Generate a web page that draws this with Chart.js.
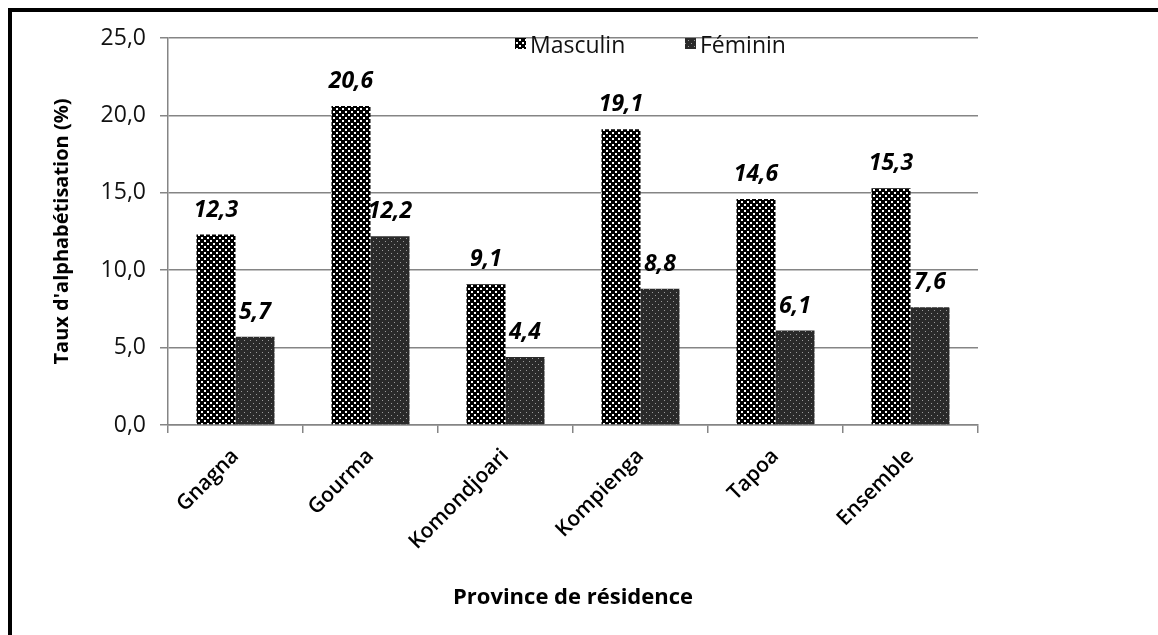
<!DOCTYPE html>
<html>
<head>
<meta charset="utf-8">
<script src="https://cdn.jsdelivr.net/npm/chart.js@4/dist/chart.umd.min.js"></script>
<style>
  body { margin: 0; background: #fff; }
  #wrap { position: relative; width: 1158px; height: 635px; overflow: hidden; }
  #frame { position: absolute; left: 8px; top: 8px; right: -10px; bottom: -10px;
           border-left: 4px solid #000; border-top: 4px solid #000; pointer-events: none; }
  canvas { position: absolute; left: 0; top: 0; }
</style>
</head>
<body>
<div id="wrap">
  <canvas id="alphaChart" width="1158" height="635"></canvas>
  <div id="frame"></div>
</div>
<script>
const provinces = ["Gnagna", "Gourma", "Komondjoari", "Kompienga", "Tapoa", "Ensemble"];
const masculin = [12.3, 20.6, 9.1, 19.1, 14.6, 15.3];
const feminin = [5.7, 12.2, 4.4, 8.8, 6.1, 7.6];
const yTicks = [0, 5, 10, 15, 20, 25];

const gray = "#858585";
const fontFam = "'Open Sans', sans-serif";

// hatch patterns like the old office chart
function checkerPattern() {
    const c = document.createElement("canvas");
    c.width = 6; c.height = 6;
    const g = c.getContext("2d");
    g.fillStyle = "#000";
    g.fillRect(0, 0, 6, 6);
    g.fillStyle = "#fff";
    g.fillRect(0, 0, 2, 2);
    g.fillRect(3, 3, 2, 2);
    return g.createPattern(c, "repeat");
}
function dotPattern() {
    const c = document.createElement("canvas");
    c.width = 6; c.height = 6;
    const g = c.getContext("2d");
    g.fillStyle = "#2a2a2a";
    g.fillRect(0, 0, 6, 6);
    g.fillStyle = "#9a9a9a";
    g.fillRect(1, 1, 1, 1);
    g.fillRect(4, 4, 1, 1);
    return g.createPattern(c, "repeat");
}

const fmt = v => v.toFixed(1).replace(".", ",");

const valueLabels = {
    id: "valueLabels",
    afterDatasetsDraw(chart) {
        const ctx = chart.ctx;
        ctx.save();
        ctx.font = "italic bold 23px " + fontFam;
        ctx.fillStyle = "#000";
        ctx.textAlign = "center";
        ctx.textBaseline = "alphabetic";
        chart.data.datasets.forEach((ds, i) => {
            chart.getDatasetMeta(i).data.forEach((bar, j) => {
                ctx.fillText(fmt(ds.data[j]), bar.x, bar.y - 18);
            });
        });
        ctx.restore();
    }
};

const legendBox = {
    id: "legendBox",
    afterDraw(chart) {
        const ctx = chart.ctx;
        const spots = [515, 685];
        ctx.save();
        ctx.font = "23px " + fontFam;
        ctx.textBaseline = "middle";
        chart.data.datasets.forEach((ds, i) => {
            const x = spots[i];
            ctx.fillStyle = ds.backgroundColor;
            ctx.fillRect(x, 38, 11, 11);
            ctx.fillStyle = "#111";
            ctx.fillText(ds.label, x + 15, 46);
        });
        ctx.restore();
    }
};

const canvas = document.getElementById("alphaChart");

let alphaChart = new Chart(canvas, {
    type: "bar",
    data: {
        labels: provinces,
        datasets: [
            {
                label: "Masculin",
                data: masculin,
                backgroundColor: checkerPattern(),
                borderWidth: 0,
                categoryPercentage: 0.578,
                barPercentage: 1.0
            },
            {
                label: "Féminin",
                data: feminin,
                backgroundColor: dotPattern(),
                borderWidth: 0,
                categoryPercentage: 0.578,
                barPercentage: 1.0
            }
        ]
    },
    options: {
        responsive: false,
        animation: false,
        devicePixelRatio: 1,
        layout: { padding: { left: 50, right: 180, top: 38, bottom: 24 } },
        plugins: {
            legend: { display: false },
            tooltip: { enabled: false }
        },
        scales: {
            x: {
                afterFit: s => { s.height = 186; },
                border: { display: true, color: gray, width: 1.5 },
                grid: {
                    offset: true,
                    drawOnChartArea: true,
                    color: ctx => ctx.index === provinces.length ? gray : "rgba(0,0,0,0)",
                    tickColor: gray,
                    tickLength: 8,
                    lineWidth: 1.5
                },
                ticks: {
                    color: "#000",
                    font: { family: fontFam, size: 21, weight: 600 },
                    minRotation: 45,
                    maxRotation: 45,
                    padding: 11
                },
                title: {
                    display: true,
                    text: "Province de résidence",
                    color: "#000",
                    font: { family: fontFam, size: 22, weight: "bold" },
                    padding: 0
                }
            },
            y: {
                min: 0,
                max: 25,
                afterFit: s => { s.width = 118; },
                afterBuildTicks: s => { s.ticks = yTicks.map(v => ({ value: v })); },
                border: { display: true, color: gray, width: 1.5 },
                grid: {
                    color: gray,
                    tickColor: gray,
                    tickLength: 8,
                    lineWidth: 1.5
                },
                ticks: {
                    color: "#111",
                    font: { family: fontFam, size: 23 },
                    padding: 14,
                    callback: v => fmt(v)
                },
                title: {
                    display: true,
                    text: "Taux d'alphabétisation (%)",
                    color: "#000",
                    font: { family: fontFam, size: 20, weight: "bold" },
                    padding: 0
                }
            }
        }
    },
    plugins: [valueLabels, legendBox]
});
</script>
</body>
</html>
